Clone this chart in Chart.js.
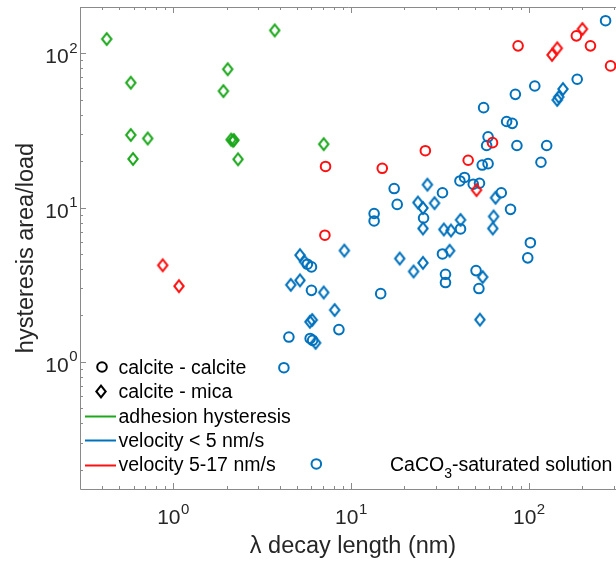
<!DOCTYPE html>
<html>
<head>
<meta charset="utf-8">
<script src="https://cdn.jsdelivr.net/npm/chart.js@4"></script>
<style>
  html, body { margin: 0; padding: 0; background: #fff; }
  #wrap { width: 616px; height: 561px; }
</style>
</head>
<body>
<div id="wrap"><canvas id="chart" width="616" height="561"></canvas></div>
<script>
// hysteresis area/load vs decay length, log-log scatter

// ─── Data ──────────────────────────────────────────
var xRange = [0.3, 309];
var yRange = [0.15, 200];
var xMajorTicks = [1, 10, 100];
var yMajorTicks = [1, 10, 100];
var xTickExp = ['0', '1', '2'];
var yTickExp = ['0', '1', '2'];

// adhesion hysteresis, calcite - mica
var greenMicaX = [0.424, 0.579, 0.579, 0.596, 0.721, 2.03, 1.92, 2.12, 2.17, 2.2, 2.32, 3.73, 7.03];
var greenMicaY = [124, 64.6, 29.6, 20.7, 28.1, 79, 57, 27.6, 27.2, 27.4, 20.6, 141, 25.8];

// velocity 5-17 nm/s
var redCalciteX = [7.2, 7.14, 15.0, 26.2, 45.6, 62.5, 87, 185, 222, 288];
var redCalciteY = [18.5, 6.63, 18.0, 23.4, 20.3, 26.4, 112, 130, 112, 83];
var redMicaX = [0.875, 1.08, 50.8, 135, 144.5, 200];
var redMicaY = [4.23, 3.1, 13.0, 97.8, 108, 144];

// velocity < 5 nm/s
var blueCalciteX = [270, 187, 108, 84, 55.7, 75, 80.7, 59, 57.9, 85.7, 126, 117, 54.7, 59,
  41, 43.5, 48.7, 52.8, 70, 78.9, 32.7, 17.5, 18.2, 13.5, 13.5, 25.6, 41.3, 32.7, 102, 98.6,
  34, 34, 50.5, 52.4, 14.7, 5.69, 6.0, 6.0, 4.48, 5.9, 6.09, 8.56, 4.2, 6.39];
var blueCalciteY = [163, 68, 61.5, 54.3, 44.5, 36.2, 35.2, 28.8, 25.3, 25.3, 25.3, 19.7, 18.9, 19.3,
  14.9, 15.7, 14.2, 14.4, 12.5, 9.75, 12.5, 13.3, 10.5, 9.17, 8.2, 8.57, 7.28, 5.01, 5.93, 4.73,
  3.7, 3.27, 3.91, 2.99, 2.77, 4.3, 4.13, 2.91, 1.45, 1.42, 1.38, 1.62, 0.917, 0.218];
var blueMicaX = [155.6, 147.4, 144.4, 26.9, 23.8, 29.5, 25.4, 25.4, 33.3, 36.5, 41.3, 65, 63.4, 62.7,
  35.9, 55, 53.1, 18.8, 25.4, 22.5, 9.18, 5.17, 5.49, 4.59, 5.17, 7.03, 8.1, 5.88, 6.06, 6.33];
var blueMicaY = [58.8, 52.2, 49.9, 14.1, 10.8, 10.7, 9.96, 7.33, 7.22, 7.11, 8.33, 11.6, 8.77, 7.33,
  5.26, 3.55, 1.88, 4.68, 4.39, 3.86, 5.27, 4.92, 4.46, 3.16, 3.38, 2.82, 2.17, 1.82, 1.87, 1.33];

var legendLabels = ['calcite - calcite', 'calcite - mica', 'adhesion hysteresis',
  'velocity < 5 nm/s', 'velocity 5-17 nm/s'];

// ─── Styles ────────────────────────────────────────
var GREEN = '#1ca81c';
var BLUE = '#0072bd';
var RED = '#ff1010';
var TEXT = '#262626';
var AXIS = '#8a8a8a';
var FONT = '"Liberation Sans", Arial, Helvetica, sans-serif';

function pts(xs, ys) {
  return xs.map(function (x, i) { return { x: x, y: ys[i] }; });
}

// diamond marker, a bit taller than wide like the MATLAB one
function diamondPath(ctx, cx, cy) {
  ctx.beginPath();
  ctx.moveTo(cx, cy - 5.8);
  ctx.lineTo(cx + 4.7, cy);
  ctx.lineTo(cx, cy + 5.8);
  ctx.lineTo(cx - 4.7, cy);
  ctx.closePath();
}
function makeDiamond(color) {
  var c = document.createElement('canvas');
  c.width = 16; c.height = 20;
  var g = c.getContext('2d');
  g.strokeStyle = color;
  g.lineWidth = 2;
  g.lineJoin = 'miter';
  diamondPath(g, 8, 10);
  g.stroke();
  return c;
}

function minorTicks(range) {
  var out = [];
  var lo = Math.floor(Math.log10(range[0]));
  var hi = Math.ceil(Math.log10(range[1]));
  for (var e = lo; e <= hi; e++) {
    for (var m = 2; m <= 9; m++) {
      var v = m * Math.pow(10, e);
      if (v > range[0] && v < range[1]) out.push(v);
    }
  }
  return out;
}

function powerLabel(ctx, base, exp, x, y, align, size) {
  ctx.font = size + 'px ' + FONT;
  var wb = ctx.measureText(base).width;
  ctx.font = Math.round(size * 0.72) + 'px ' + FONT;
  var we = ctx.measureText(exp).width;
  var start = align === 'right' ? x - wb - we : x - (wb + we) / 2;
  ctx.textAlign = 'left';
  ctx.textBaseline = 'alphabetic';
  ctx.font = size + 'px ' + FONT;
  ctx.fillText(base, start, y);
  ctx.font = Math.round(size * 0.72) + 'px ' + FONT;
  ctx.fillText(exp, start + wb + 0.5, y - 10.5);
}

// ─── Axes, labels and legend ───────────────────────
var decor = {
  id: 'decor',
  afterDatasetsDraw: function (chart) {
    var ctx = chart.ctx, a = chart.chartArea;
    var xs = chart.scales.x, ys = chart.scales.y;
    var i, p;
    ctx.save();

    // box (right side is off the canvas)
    ctx.strokeStyle = AXIS;
    ctx.lineWidth = 1;
    ctx.beginPath();
    ctx.moveTo(a.left + 0.5, a.top + 0.5);
    ctx.lineTo(a.left + 0.5, a.bottom + 0.5);
    ctx.lineTo(a.right, a.bottom + 0.5);
    ctx.moveTo(a.left + 0.5, a.top + 0.5);
    ctx.lineTo(a.right, a.top + 0.5);
    ctx.stroke();

    // inward ticks
    function xTick(v, len) {
      p = Math.round(xs.getPixelForValue(v)) + 0.5;
      ctx.moveTo(p, a.bottom); ctx.lineTo(p, a.bottom - len);
      ctx.moveTo(p, a.top); ctx.lineTo(p, a.top + len);
    }
    function yTick(v, len) {
      p = Math.round(ys.getPixelForValue(v)) + 0.5;
      ctx.moveTo(a.left, p); ctx.lineTo(a.left + len, p);
    }
    ctx.beginPath();
    xMajorTicks.forEach(function (v) { xTick(v, 6); });
    minorTicks(xRange).forEach(function (v) { xTick(v, 3); });
    yMajorTicks.forEach(function (v) { yTick(v, 6); });
    minorTicks(yRange).forEach(function (v) { yTick(v, 3); });
    ctx.stroke();

    // tick labels
    ctx.fillStyle = TEXT;
    for (i = 0; i < xMajorTicks.length; i++) {
      powerLabel(ctx, '10', xTickExp[i], xs.getPixelForValue(xMajorTicks[i]), 524, 'center', 21);
    }
    for (i = 0; i < yMajorTicks.length; i++) {
      powerLabel(ctx, '10', yTickExp[i], 77, ys.getPixelForValue(yMajorTicks[i]) + 10, 'right', 21);
    }

    // axis titles
    ctx.font = '23.5px ' + FONT;
    ctx.textAlign = 'center';
    ctx.textBaseline = 'alphabetic';
    ctx.fillText('\u03bb decay length (nm)', 353, 553);
    ctx.save();
    ctx.translate(33, (a.top + a.bottom) / 2);
    ctx.rotate(-Math.PI / 2);
    ctx.fillText('hysteresis area/load', 0, 0);
    ctx.restore();

    // legend
    var rows = [374, 398.3, 422.6, 446.9, 471.2];
    ctx.strokeStyle = '#000';
    ctx.lineWidth = 2;
    ctx.beginPath();
    ctx.arc(102, 367, 4.8, 0, Math.PI * 2);
    ctx.stroke();
    diamondPath(ctx, 101, 391.5);
    ctx.stroke();
    [GREEN, BLUE, RED].forEach(function (c, k) {
      var y = Math.round(rows[k + 2] - 6.5) + 0.5;
      ctx.strokeStyle = c;
      ctx.lineWidth = 2;
      ctx.beginPath();
      ctx.moveTo(85, y); ctx.lineTo(116, y);
      ctx.stroke();
    });
    ctx.fillStyle = '#000';
    ctx.font = '19.5px ' + FONT;
    ctx.textAlign = 'left';
    for (i = 0; i < legendLabels.length; i++) {
      ctx.fillText(legendLabels[i], 118.5, rows[i]);
    }

    // condition note
    var x0 = 390;
    ctx.fillText('CaCO', x0, rows[4]);
    x0 += ctx.measureText('CaCO').width;
    ctx.font = '14px ' + FONT;
    ctx.fillText('3', x0, rows[4] + 6.5);
    x0 += ctx.measureText('3').width;
    ctx.font = '19.5px ' + FONT;
    ctx.fillText('-saturated solution', x0, rows[4]);

    ctx.restore();
  }
};

function series(data, color, shape) {
  var ds = { data: data, borderColor: color, backgroundColor: 'rgba(0,0,0,0)', pointHoverRadius: 4.8 };
  if (shape === 'circle') {
    ds.pointStyle = 'circle'; ds.pointRadius = 4.8; ds.borderWidth = 2;
  } else {
    ds.pointStyle = makeDiamond(color); ds.pointRadius = 5; ds.borderWidth = 0;
  }
  return ds;
}

var chart = new Chart(document.getElementById('chart'), {
  type: 'scatter',
  data: {
    // first dataset ends up on top
    datasets: [
      series(pts(greenMicaX, greenMicaY), GREEN, 'diamond'),
      series(pts(redMicaX, redMicaY), RED, 'diamond'),
      series(pts(redCalciteX, redCalciteY), RED, 'circle'),
      series(pts(blueMicaX, blueMicaY), BLUE, 'diamond'),
      series(pts(blueCalciteX, blueCalciteY), BLUE, 'circle')
    ]
  },
  options: {
    responsive: false,
    animation: false,
    events: [],
    layout: { autoPadding: false, padding: { left: 0, top: 7, right: 0, bottom: 0 } },
    plugins: { legend: { display: false }, tooltip: { enabled: false } },
    scales: {
      x: {
        type: 'logarithmic', min: xRange[0], max: xRange[1], bounds: 'data',
        grid: { display: false }, border: { display: false }, ticks: { display: false },
        afterFit: function (s) { s.height = 72; }
      },
      y: {
        type: 'logarithmic', min: yRange[0], max: yRange[1], bounds: 'data',
        grid: { display: false }, border: { display: false }, ticks: { display: false },
        afterFit: function (s) { s.width = 80; }
      }
    }
  },
  plugins: [decor]
});
</script>
</body>
</html>
